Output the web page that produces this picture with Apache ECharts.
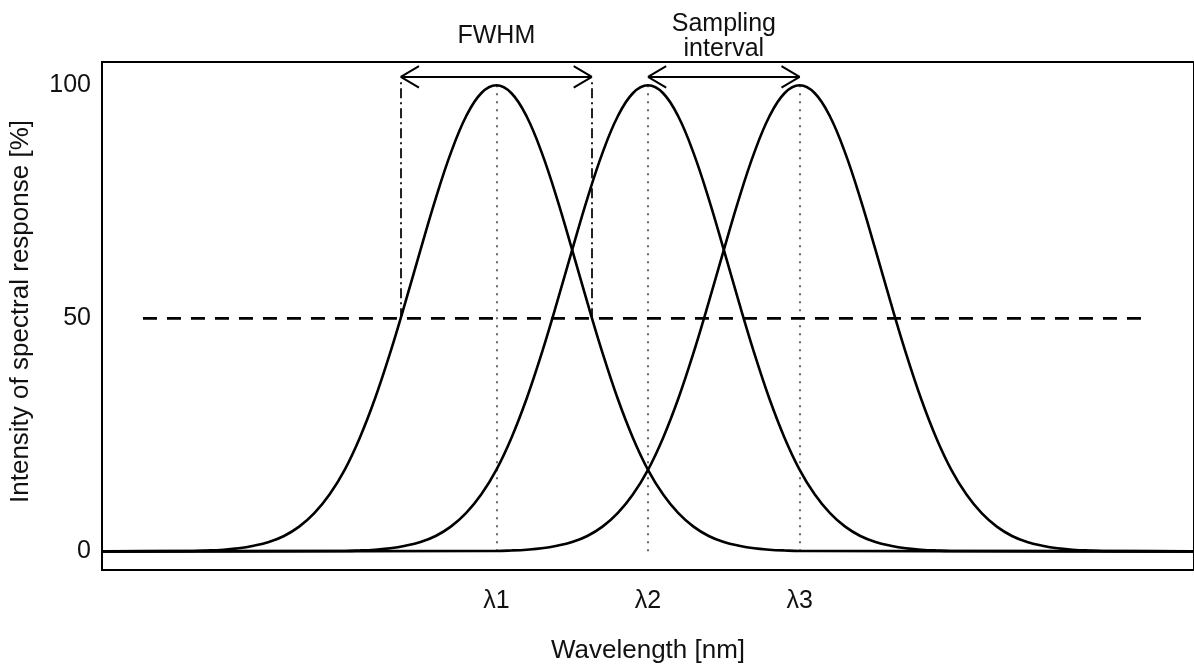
<!DOCTYPE html>
<html>
<head>
<meta charset="utf-8">
<script src="https://cdn.jsdelivr.net/npm/echarts@6/dist/echarts.min.js"></script>
<style>
  html, body { margin: 0; padding: 0; background: #fff; }
  #main { width: 1194px; height: 669px; }
</style>
</head>
<body>
<div id="main"></div>
<script>
// wavelength axis in arbitrary units, lambda spacing = 10
var xRange = [4, 76];
var peaks = [30, 40, 50];
var peakLabels = ['λ1', 'λ2', 'λ3'];

// shape of one response curve (offset from peak -> %)
var profileOffsets = [-20,-19,-18,-17,-16,-15,-14,-13,-12,-11,-10,-9,-8,-7,-6,-5,-4,-3,-2,-1,
                      0,1,2,3,4,5,6,7,8,9,10,11,12,13,14,15,16,17,18,19,20];
var profileValues = [0.09,0.19,0.36,0.65,1.2,2.0,3.3,5.3,8.2,12.2,17.5,24.4,32.8,42.6,53.4,64.7,75.7,85.5,93.3,98.3,
                     100,98.3,93.3,85.5,75.7,64.7,53.4,42.6,32.8,24.4,17.5,12.2,8.2,5.3,3.3,2.0,1.2,0.65,0.36,0.19,0.09];

var halfMax = 50;
var halfLineX = [6.7, 73.1];
var fwhmEdges = [23.7, 36.3];
var samplingEdges = [40, 50];
var arrowY = 101.8;
var yTicks = [0, 50, 100];

var noteX = [30, 45];
var noteY = [110.5, 110.5];
var noteText = ['FWHM', 'Sampling\ninterval'];

var FONT = '"Liberation Sans", Arial, Helvetica, sans-serif';
var chart = echarts.init(document.getElementById('main'));

function curve(center) {
    var d = [[xRange[0], 0]];
    for (var i = 0; i < profileOffsets.length; i++) {
        d.push([center + profileOffsets[i], profileValues[i]]);
    }
    d.push([xRange[1], 0]);
    return d;
}

function arrow(x0, x1, y) {
    var hx = 1.2, hy = 2.3;
    return [
        {coords: [[x0, y], [x1, y]]},
        {coords: [[x0, y], [x0 + hx, y + hy]]},
        {coords: [[x0, y], [x0 + hx, y - hy]]},
        {coords: [[x1, y], [x1 - hx, y + hy]]},
        {coords: [[x1, y], [x1 - hx, y - hy]]}
    ];
}

var series = [];
peaks.forEach(function (p) {
    series.push({
        type: 'line', data: curve(p), showSymbol: false, smooth: 0.4,
        lineStyle: {color: '#000', width: 2.6}, silent: true
    });
});

// half maximum level
series.push({
    type: 'line', data: [[halfLineX[0], halfMax], [halfLineX[1], halfMax]],
    showSymbol: false, lineStyle: {color: '#000', width: 2.6, type: [14, 10]}
});

// dotted lines at peak centres
series.push({
    type: 'lines', coordinateSystem: 'cartesian2d',
    data: peaks.map(function (p) { return {coords: [[p, 0], [p, 100]]}; }),
    lineStyle: {color: '#333', width: 1.5, type: [2, 6], opacity: 1}
});

// FWHM edges, dash-dot
series.push({
    type: 'lines', coordinateSystem: 'cartesian2d',
    data: fwhmEdges.map(function (x) { return {coords: [[x, halfMax], [x, arrowY - 0.8]]}; }),
    lineStyle: {color: '#222', width: 2, type: [10, 4, 2, 4], opacity: 1}
});

// arrows
series.push({
    type: 'lines', coordinateSystem: 'cartesian2d',
    data: arrow(fwhmEdges[0], fwhmEdges[1], arrowY).concat(arrow(samplingEdges[0], samplingEdges[1], arrowY)),
    lineStyle: {color: '#000', width: 2, opacity: 1}
});

// text notes above the box
series.push({
    type: 'scatter', clip: false, symbolSize: 0,
    itemStyle: {opacity: 1, color: '#000'},
    data: noteX.map(function (x, i) { return {value: [x, noteY[i]], name: noteText[i]}; }),
    label: {
        show: true, position: 'inside', formatter: '{b}', opacity: 1,
        color: '#111', fontFamily: FONT, fontSize: 25, lineHeight: 25
    }
});

chart.setOption({
    animation: false,
    backgroundColor: '#fff',
    grid: {
        left: 102, top: 62, width: 1094, height: 512,
        show: true, borderColor: '#000', borderWidth: 2, containLabel: false
    },
    xAxis: {
        type: 'value', min: xRange[0], max: xRange[1],
        name: 'Wavelength [nm]', nameLocation: 'middle', nameGap: 68,
        nameTextStyle: {color: '#111', fontFamily: FONT, fontSize: 26},
        axisLine: {show: false}, axisTick: {show: false}, splitLine: {show: false},
        axisLabel: {
            customValues: peaks, margin: 19, color: '#111', fontFamily: FONT, fontSize: 25,
            formatter: function (v) { return peakLabels[peaks.indexOf(v)] || ''; }
        }
    },
    yAxis: {
        type: 'value', min: -4, max: 105,
        name: 'Intensity of spectral response [%]', nameLocation: 'middle', nameGap: 68,
        nameTextStyle: {color: '#111', fontFamily: FONT, fontSize: 26, padding: [0, 0, 0, 9]},
        axisLine: {show: false}, axisTick: {show: false}, splitLine: {show: false},
        axisLabel: {customValues: yTicks, margin: 11, color: '#111', fontFamily: FONT, fontSize: 25}
    },
    series: series
});
</script>
</body>
</html>
